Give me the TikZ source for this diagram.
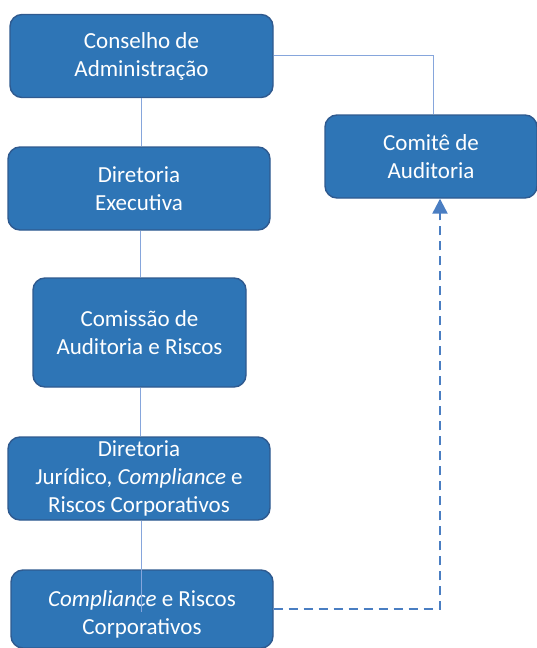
\documentclass[tikz,border=0pt]{standalone}
\usepackage{fontspec}
\setmainfont{Carlito}
\usetikzlibrary{arrows.meta}
\definecolor{boxfill}{HTML}{2E75B6}
\definecolor{boxline}{HTML}{2F5A8F}
\definecolor{conn}{HTML}{86A6DC}
\definecolor{dashc}{HTML}{4A7EC2}
\tikzset{
  orgbox/.style={draw=boxline, line width=1.4pt, fill=boxfill, rounded corners=12pt,
    text=white, align=center, inner sep=0pt,
    font=\fontsize{23}{28}\selectfont},
  conline/.style={draw=conn, line width=1pt},
  dashline/.style={draw=dashc, line width=2.3pt, dash pattern=on 9pt off 6pt,
    -{Triangle[width=15pt,length=15pt]}}
}
\begin{document}
\begin{tikzpicture}[x=1pt,y=-1pt]
\useasboundingbox (0,0) rectangle (537,648);
\coordinate (topjoin) at (433,55);
\node[orgbox, minimum width=263pt, minimum height=83pt] (cons) at (141.5,56) {Conselho de\\Administração};
\node[orgbox, minimum width=212pt, minimum height=83pt] (comite) at (431,156.5) {Comitê de\\Auditoria};
\draw[conline] (cons.east |- topjoin) -- (topjoin) -- (topjoin |- comite.north);
\node[orgbox, minimum width=262pt, minimum height=83pt] (dexec) at (139,188.5) {Diretoria\\Executiva};
\node[orgbox, minimum width=213pt, minimum height=109pt] (cars) at (139.5,332.5) {Comissão de\\Auditoria e Riscos};
\node[orgbox, minimum width=262pt, minimum height=83pt] (djur) at (139,478.5) {Diretoria\\Jurídico, \textit{Compliance} e\\Riscos Corporativos};
\node[orgbox, minimum width=262pt, minimum height=78pt] (comp) at (142,609) {\raisebox{-12pt}[28pt][28pt]{\begin{tabular}{@{}c@{}}\textit{Compliance} e Riscos\\Corporativos\end{tabular}}};
\coordinate (inner) at (141,612);
\draw[conline] (141,0 |- cons.south) -- (141,0 |- dexec.north);
\draw[conline] (140,0 |- dexec.south) -- (140,0 |- cars.north);
\draw[conline] (140.5,0 |- cars.south) -- (140.5,0 |- djur.north);
\draw[conline] (141,0 |- djur.south) -- (inner);
\coordinate (corner) at (440,609);
\draw[dashline] (comp.east |- corner) -- (corner) -- (corner |- comite.south);
\end{tikzpicture}
\end{document}
